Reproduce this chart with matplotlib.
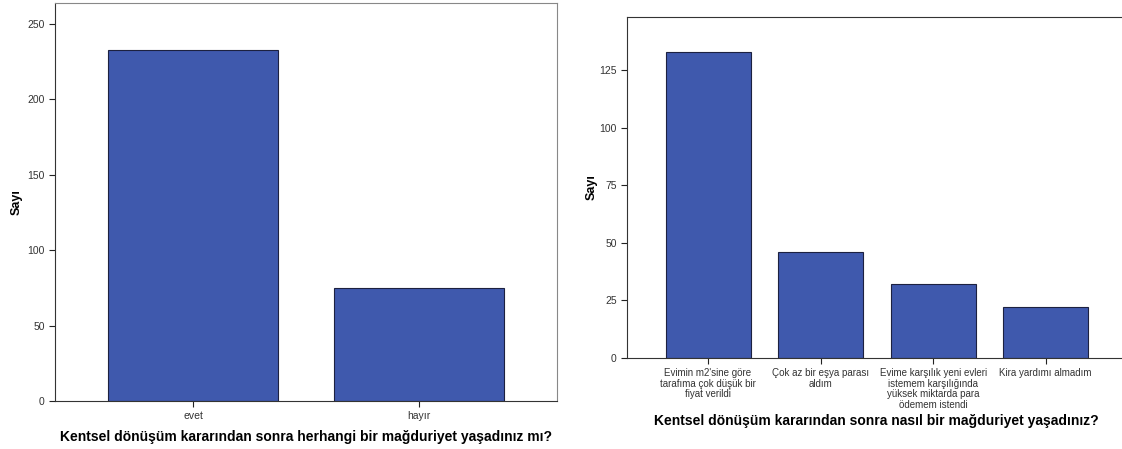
import matplotlib.pyplot as plt
import numpy as np

# data
LEFT_CATS = ["evet", "hayır"]
LEFT_VALUES = [233, 75]
RIGHT_CATS = [
    "Evimin m2'sine göre\ntarafıma çok düşük bir\nfiyat verildi",
    "Çok az bir eşya parası\naldım",
    "Evime karşılık yeni evleri\nistemem karşılığında\nyüksek miktarda para\nödemem istendi",
    "Kira yardımı almadım",
]
RIGHT_VALUES = [133, 46, 32, 22]

LEFT_TITLE = "Kentsel dönüşüm kararından sonra herhangi bir mağduriyet yaşadınız mı?"
RIGHT_TITLE = "Kentsel dönüşüm kararından sonra nasıl bir mağduriyet yaşadınız?"

BAR_COLOR = "#3F59AD"
EDGE_COLOR = "#1C2140"

plt.rcParams["font.family"] = ["Liberation Sans", "DejaVu Sans"]


def style_axes(ax):
    ax.tick_params(axis="both", direction="out", length=4, width=0.8,
                   labelsize=7.5, colors="#222222", labelcolor="#333333")
    ax.tick_params(axis="x", pad=3)


def main():
    fig = plt.figure(figsize=(11.22, 4.49), dpi=100)

    # left chart
    ax1 = fig.add_axes([55 / 1122, 48 / 449, 502 / 1122, 398 / 449])
    x1 = np.arange(len(LEFT_CATS))
    ax1.bar(x1, LEFT_VALUES, width=0.755, color=BAR_COLOR,
            edgecolor=EDGE_COLOR, linewidth=0.8)
    ax1.set_xlim(-0.613, 1.613)
    ax1.set_ylim(0, 264)
    ax1.set_yticks([0, 50, 100, 150, 200, 250])
    ax1.set_xticks(x1)
    ax1.set_xticklabels(LEFT_CATS)
    for side in ["top", "right"]:
        ax1.spines[side].set_color("#888888")
    for side in ["left", "bottom"]:
        ax1.spines[side].set_color("#333333")
    style_axes(ax1)
    ax1.set_ylabel("Sayı", fontsize=9, fontweight="bold")
    ax1.yaxis.set_label_coords(-0.065, 0.5)
    ax1.set_xlabel(LEFT_TITLE, fontsize=10, fontweight="bold", labelpad=7)

    # right chart
    ax2 = fig.add_axes([627 / 1122, 91 / 449, 498 / 1122, 341 / 449])
    x2 = np.arange(len(RIGHT_CATS))
    ax2.bar(x2, RIGHT_VALUES, width=0.755, color=BAR_COLOR,
            edgecolor=EDGE_COLOR, linewidth=0.8)
    ax2.set_xlim(-0.72, 3.705)
    ax2.set_ylim(0, 148)
    ax2.set_yticks([0, 25, 50, 75, 100, 125])
    ax2.set_xticks(x2)
    ax2.set_xticklabels(RIGHT_CATS, fontsize=7, linespacing=1.1)
    ax2.spines["right"].set_visible(False)
    for side in ["left", "bottom", "top"]:
        ax2.spines[side].set_color("#333333")
    style_axes(ax2)
    ax2.tick_params(axis="x", labelsize=7)
    ax2.set_ylabel("Sayı", fontsize=9, fontweight="bold")
    ax2.yaxis.set_label_coords(-0.058, 0.5)
    ax2.set_xlabel(RIGHT_TITLE, fontsize=10, fontweight="bold", labelpad=3)

    fig.savefig("out.png", dpi=100)


if __name__ == "__main__":
    main()
